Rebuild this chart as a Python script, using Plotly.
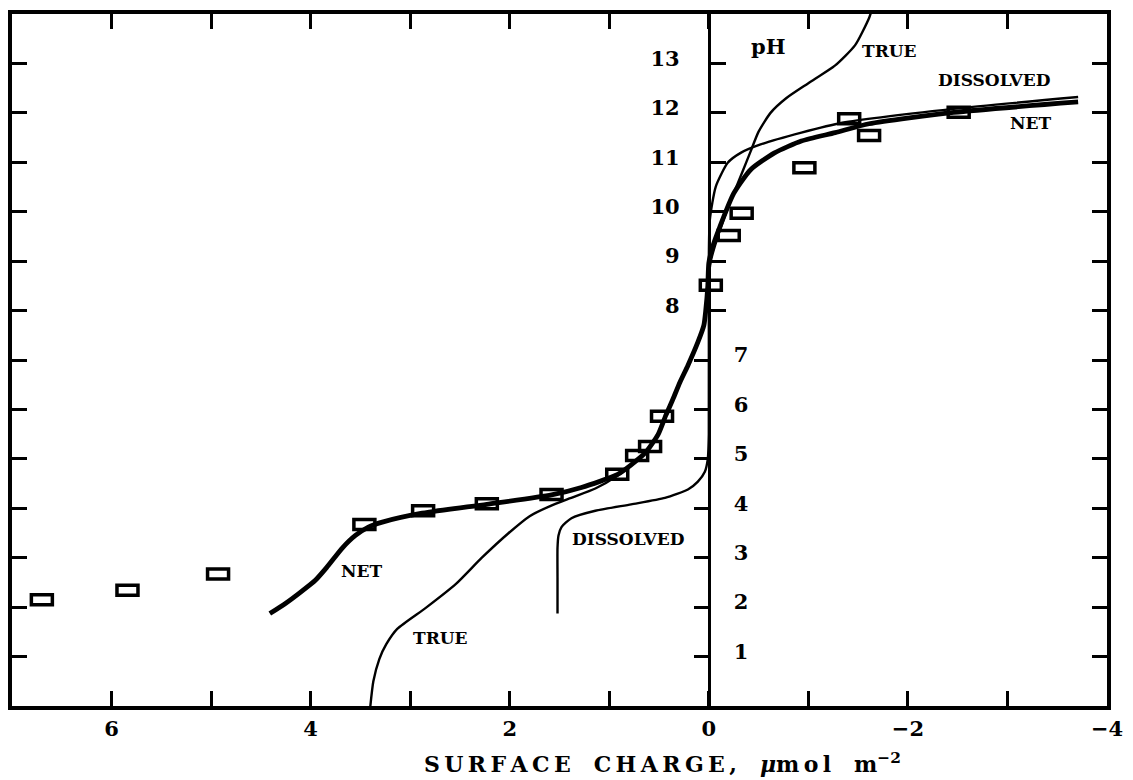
import plotly.graph_objects as go

# Net surface charge curve (thick line): surface charge (umol m^-2) vs pH
net_x = [4.41, 4.25, 4.11, 3.95, 3.84, 3.68, 3.55, 3.42, 3.28, 2.88, 2.23, 1.58, 1.28, 0.92,
         0.78, 0.64, 0.51, 0.43, 0.36, 0.29, 0.21, 0.11, 0.05, 0.03, 0.01, 0.00, -0.04, -0.11,
         -0.25, -0.42, -0.66, -0.93, -1.27, -1.61, -2.46, -3.71]
net_ph = [1.87, 2.08, 2.29, 2.55, 2.80, 3.20, 3.45, 3.62, 3.72, 3.90, 4.08, 4.27, 4.42, 4.68,
          4.88, 5.12, 5.49, 5.89, 6.21, 6.55, 6.89, 7.36, 7.70, 8.02, 8.50, 8.96, 9.30, 9.69,
          10.37, 10.85, 11.19, 11.43, 11.60, 11.78, 12.01, 12.22]

# True surface charge curve (thin line)
true_x = [3.40, 3.37, 3.31, 3.24, 3.13, 2.84, 2.54, 2.28, 2.01, 1.80, 1.60, 1.40, 1.14, 0.92,
          0.78, 0.64, 0.51, 0.43, 0.36, 0.29, 0.21, 0.11, 0.05, 0.03, 0.01, -0.02, -0.06,
          -0.15, -0.25, -0.34, -0.42, -0.50, -0.62, -0.78, -1.00, -1.27, -1.47, -1.61, -1.64]
true_ph = [0.00, 0.50, 0.95, 1.25, 1.56, 1.99, 2.47, 3.00, 3.50, 3.84, 4.04, 4.20, 4.40, 4.66,
           4.88, 5.12, 5.49, 5.89, 6.21, 6.55, 6.89, 7.36, 7.70, 8.02, 8.50, 9.00, 9.30,
           9.85, 10.37, 10.82, 11.22, 11.62, 12.00, 12.30, 12.60, 12.96, 13.37, 13.92, 14.10]

# Dissolved-species charge curve (thin line)
diss_x = [1.52, 1.52, 1.52, 1.51, 1.48, 1.38, 1.14, 0.78, 0.44, 0.21, 0.11, 0.04, 0.01,
          0.00, 0.00, -0.01, -0.07, -0.19, -0.32, -0.52, -0.93, -1.34, -2.46, -3.71]
diss_ph = [1.87, 2.60, 3.20, 3.45, 3.62, 3.80, 3.95, 4.08, 4.21, 4.38, 4.54, 4.74, 5.00,
           5.50, 9.00, 9.83, 10.51, 10.99, 11.19, 11.36, 11.60, 11.80, 12.08, 12.32]

# Measured points (open rectangles)
obs_x = [6.70, 5.84, 4.93, 3.46, 2.87, 2.23, 1.58, 0.92, 0.72, 0.59, 0.47, -0.02,
         -0.20, -0.33, -0.96, -1.41, -1.61, -2.51]
obs_ph = [2.15, 2.34, 2.67, 3.67, 3.95, 4.09, 4.28, 4.69, 5.07, 5.25, 5.86, 8.51,
          9.52, 9.97, 10.89, 11.88, 11.54, 12.01]

# Axis ticks and labels
x_major = [6, 4, 2, 0, -2, -4]
x_major_text = ["6", "4", "2", "0", "\u22122", "\u22124"]
x_minor = [5, 3, 1, -1, -3]
ph_upper = [8, 9, 10, 11, 12, 13]
ph_lower = [1, 2, 3, 4, 5, 6, 7]

# Curve labels: (text, x, pH, font size)
curve_labels = [
    ("pH", -0.60, 13.35, 21),
    ("TRUE", -1.81, 13.25, 17),
    ("DISSOLVED", -2.87, 12.66, 17),
    ("NET", -3.23, 11.80, 17),
    ("DISSOLVED", 0.81, 3.38, 17),
    ("NET", 3.49, 2.73, 17),
    ("TRUE", 2.70, 1.37, 17),
]

FONT = "DejaVu Serif"
INK = "black"

fig = go.Figure()

fig.add_trace(go.Scatter(x=true_x, y=true_ph, mode="lines",
                         line=dict(color=INK, width=2.4, shape="spline", smoothing=0.6),
                         hoverinfo="skip"))
fig.add_trace(go.Scatter(x=diss_x, y=diss_ph, mode="lines",
                         line=dict(color=INK, width=2.4, shape="spline", smoothing=0.6),
                         hoverinfo="skip"))
fig.add_trace(go.Scatter(x=net_x, y=net_ph, mode="lines",
                         line=dict(color=INK, width=4.8, shape="spline", smoothing=0.6),
                         hoverinfo="skip"))

# Open rectangular markers, anchored at each measured point
for xv, yv in zip(obs_x, obs_ph):
    fig.add_shape(type="rect", xref="x", yref="y",
                  xsizemode="pixel", ysizemode="pixel",
                  xanchor=xv, yanchor=yv, x0=-10.5, x1=10.5, y0=-5, y1=5,
                  line=dict(color=INK, width=3.5), fillcolor="rgba(0,0,0,0)",
                  layer="above")

for text, xv, yv, size in curve_labels:
    fig.add_annotation(x=xv, y=yv, xref="x", yref="y", text=text, showarrow=False,
                       font=dict(family=FONT, size=size, color=INK, weight="bold"))


def spaced(word):
    return "\u2009".join(word)


gap = "\u00a0\u00a0\u00a0"
title_text = (spaced("SURFACE") + gap + spaced("CHARGE,") + gap +
              "<i>\u03bc</i>" + spaced("mol") + gap + "m<sup>\u22122</sup>")

# Axis caption, set under the x axis
fig.add_annotation(x=0.594, y=-0.083, xref="paper", yref="paper", text=title_text,
                   showarrow=False, xanchor="center", yanchor="middle",
                   font=dict(family=FONT, size=22, color=INK, weight="bold"))

x_range = [7, -4]
zero_pos = (x_range[0] - 0) / (x_range[0] - x_range[1])

tick_style = dict(ticks="inside", ticklen=15, tickwidth=3, tickcolor=INK)

fig.update_layout(
    width=1133, height=780,
    margin=dict(l=12, r=23, t=10, b=74),
    paper_bgcolor="white", plot_bgcolor="white",
    showlegend=False,
    font=dict(family=FONT, color=INK),
    xaxis=dict(
        range=x_range, tickvals=x_major, ticktext=x_major_text,
        minor=dict(tickvals=x_minor, **tick_style),
        showline=True, linewidth=4, linecolor=INK, mirror="ticks",
        showgrid=False, zeroline=False,
        tickfont=dict(family=FONT, size=21, color=INK, weight="bold"),
        ticklabelstandoff=1,
        **tick_style,
    ),
    yaxis=dict(
        range=[0, 14], tickvals=list(range(1, 14)),
        showline=True, linewidth=4, linecolor=INK, mirror="ticks",
        showgrid=False, zeroline=False, showticklabels=False,
        **tick_style,
    ),
    # pH scale drawn along the zero-charge line: 8-13 to its left, 1-7 to its right
    yaxis2=dict(
        range=[0, 14], overlaying="y", anchor="free", position=zero_pos, side="left",
        tickvals=ph_upper,
        showline=True, linewidth=3, linecolor=INK, showgrid=False, zeroline=False,
        tickfont=dict(family=FONT, size=21, color=INK, weight="bold"),
        ticklabelstandoff=24, ticklabelshift=-5,
        **tick_style,
    ),
    yaxis3=dict(
        range=[0, 14], overlaying="y", anchor="free", position=zero_pos, side="right",
        tickvals=ph_lower,
        showline=False, showgrid=False, zeroline=False,
        tickfont=dict(family=FONT, size=21, color=INK, weight="bold"),
        ticklabelstandoff=24, ticklabelshift=-5,
        **tick_style,
    ),
)

# Invisible traces bind the pH label axes to the plot
fig.add_trace(go.Scatter(x=[0], y=[0], yaxis="y2", mode="markers",
                         marker=dict(opacity=0), hoverinfo="skip"))
fig.add_trace(go.Scatter(x=[0], y=[0], yaxis="y3", mode="markers",
                         marker=dict(opacity=0), hoverinfo="skip"))

fig.write_html("out.html")
